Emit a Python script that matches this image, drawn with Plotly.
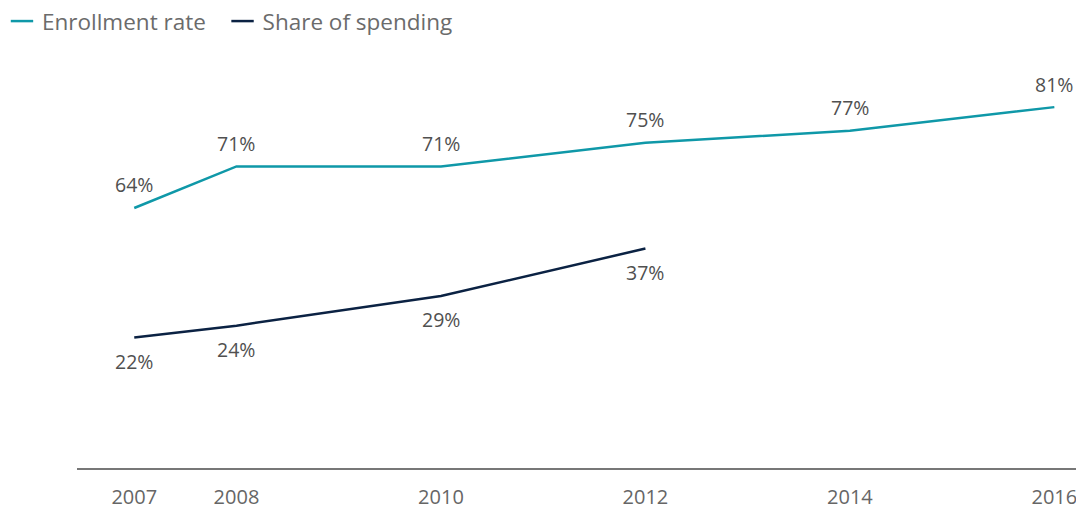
import plotly.graph_objects as go

years_enroll = [2007, 2008, 2010, 2012, 2014, 2016]
enrollment = [64, 71, 71, 75, 77, 81]
years_spend = [2007, 2008, 2010, 2012]
spending = [22, 24, 29, 37]
tick_years = [2007, 2008, 2010, 2012, 2014, 2016]

TEAL = "#0f98a8"
NAVY = "#0b2243"
FONT = "Open Sans"

fig = go.Figure()
fig.add_trace(go.Scatter(x=years_enroll, y=enrollment, mode="lines",
                         line=dict(color=TEAL, width=2.5), showlegend=False,
                         yaxis="y", hoverinfo="skip"))
fig.add_trace(go.Scatter(x=years_spend, y=spending, mode="lines",
                         line=dict(color=NAVY, width=2.5), showlegend=False,
                         yaxis="y2", hoverinfo="skip"))
# legend entries
for name, col in [("Enrollment rate\u00a0\u00a0", TEAL), ("Share of spending", NAVY)]:
    fig.add_trace(go.Scatter(x=[None], y=[None], mode="markers", name=name,
                             marker=dict(symbol="line-ew-open", size=16, color=col,
                                         line=dict(color=col, width=2.5))))

for x, v in zip(years_enroll, enrollment):
    fig.add_annotation(x=x, y=v, xref="x", yref="y", text=f"{v}%",
                       showarrow=False, yshift=23,
                       font=dict(family=FONT, size=19.5, color="#505050"))
for x, v in zip(years_spend, spending):
    fig.add_annotation(x=x, y=v, xref="x", yref="y2", text=f"{v}%",
                       showarrow=False, yshift=-24,
                       font=dict(family=FONT, size=19.5, color="#505050"))

fig.update_layout(
    width=1076, height=500,
    margin=dict(l=69, r=0, t=62, b=40, autoexpand=False),
    paper_bgcolor="white", plot_bgcolor="white",
    font=dict(family=FONT, color="#666666"),
    showlegend=True,
    legend=dict(orientation="h", xref="paper", yref="paper",
                x=-0.0745, y=1.176, xanchor="left", yanchor="top",
                font=dict(family=FONT, size=22.5, color="#6b6b6b"),
                itemwidth=30, tracegroupgap=0),
    xaxis=dict(range=[2006.44, 2016.29], tickmode="array", tickvals=tick_years,
               ticktext=[str(t) for t in tick_years], showgrid=False,
               zeroline=False, showline=True, linecolor="#777777", linewidth=2,
               ticks="", ticklabelstandoff=10,
               tickfont=dict(family=FONT, size=20, color="#666666")),
    yaxis=dict(range=[20.16, 87.26], visible=False, showgrid=False),
    yaxis2=dict(range=[0, 67.1], overlaying="y", visible=False, showgrid=False),
)

fig.write_html("out.html")
